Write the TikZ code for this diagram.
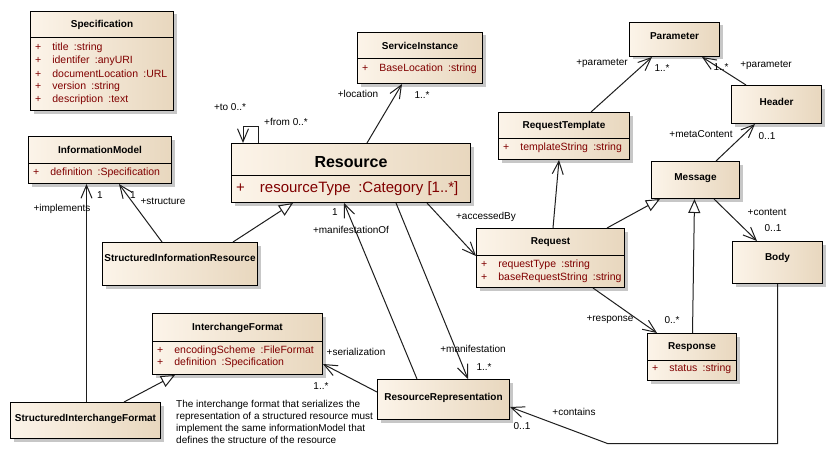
\documentclass[tikz,border=0pt]{standalone}
\usepackage{fontspec}
\setmainfont{Liberation Sans}
\usetikzlibrary{arrows.meta,shadows}
\definecolor{classleft}{RGB}{252,244,233}
\definecolor{classright}{RGB}{232,215,190}
\definecolor{attrred}{RGB}{128,0,0}
\definecolor{linegray}{RGB}{30,30,30}
\begin{document}
\begin{tikzpicture}[x=1pt,y=-1pt,
    classbox/.style={draw,line width=1pt,left color=classleft,right color=classright,
        drop shadow={shadow xshift=3pt,shadow yshift=-3pt,fill=black!22,opacity=1},
        inner sep=0pt,anchor=north west},
    classhead/.style={classbox,font=\fontsize{10}{12}\selectfont\bfseries},
    attrline/.style={anchor=west,inner sep=0pt,text=attrred,font=\fontsize{10.5}{12}\selectfont},
    lbl/.style={inner sep=0pt,text height=7pt,text depth=2pt,font=\fontsize{10}{12}\selectfont},
    assoc/.style={draw=linegray,line width=1pt,-{Straight Barb[length=13pt,width=11pt]}},
    inherit/.style={draw=linegray,line width=1pt,-{Triangle[length=14pt,width=12pt,fill=white]}}]
\fill[white] (0,0) rectangle (832,460);
\useasboundingbox (0,0) rectangle (832,460);
% Classes
    % Specification
    \node[classhead,minimum width=143pt,minimum height=26pt] (spec) at (30,11) {Specification};
    \node[classbox,minimum width=143pt,minimum height=73pt] (specattr) at (30,37) {};
    \foreach \nm/\ty [count=\i] in {title/string,identifer/anyURI,documentLocation/URL,version/string,description/text}
        \node[attrline] (spec\i) at (35,34.5+13*\i) {+\hspace{11pt}\nm\enspace:\ty};
    % InformationModel
    \node[classhead,minimum width=143pt,minimum height=27pt] (infomodel) at (28,136) {InformationModel};
    \node[classbox,minimum width=143pt,minimum height=20pt] (infomodelattr) at (28,163) {};
    \node[attrline] (infomodel1) at (33,173) {+\hspace{11pt}definition\enspace:Specification};
    % ServiceInstance
    \node[classhead,minimum width=125pt,minimum height=26pt] (service) at (357,32) {ServiceInstance};
    \node[classbox,minimum width=125pt,minimum height=25pt] (serviceattr) at (357,58) {};
    \node[attrline] (service1) at (362,69) {+\hspace{11pt}BaseLocation\enspace:string};
    % Resource
    \node[classhead,minimum width=239pt,minimum height=32pt,text height=15pt,text depth=0pt,
        font=\fontsize{16}{19}\selectfont\bfseries] (resource) at (231,143) {Resource};
    \node[classbox,minimum width=239pt,minimum height=27pt] (resourceattr) at (231,175) {};
    \node[attrline,font=\fontsize{15}{18}\selectfont] (resource1) at (236,189)
        {+\hspace{15pt}resourceType\enspace:Category [1..*]};
    % Request side
    \node[classhead,minimum width=90pt,minimum height=34pt,text depth=6pt] (param) at (629,22) {Parameter};
    \node[classhead,minimum width=90pt,minimum height=38pt,text depth=6pt] (header) at (731,85) {Header};
    \node[classhead,minimum width=131pt,minimum height=26pt] (reqtemplate) at (498,112) {RequestTemplate};
    \node[classbox,minimum width=131pt,minimum height=21pt] (reqtemplateattr) at (498,138) {};
    \node[attrline] (reqtemplate1) at (503,148) {+\hspace{11pt}templateString\enspace:string};
    \node[classhead,minimum width=88pt,minimum height=37pt,text depth=6pt] (message) at (651,161) {Message};
    \node[classhead,minimum width=90pt,minimum height=42pt,text depth=12pt] (body) at (732,241) {Body};
    \node[classhead,minimum width=148pt,minimum height=27pt] (request) at (476,228) {Request};
    \node[classbox,minimum width=148pt,minimum height=32pt] (requestattr) at (476,255) {};
    \foreach \nm/\ty [count=\i] in {requestType/string,baseRequestString/string}
        \node[attrline] (request\i) at (481,252+13*\i) {+\hspace{11pt}\nm\enspace:\ty};
    \node[classhead,minimum width=89pt,minimum height=27pt] (response) at (647,333) {Response};
    \node[classbox,minimum width=89pt,minimum height=20pt] (responseattr) at (647,360) {};
    \node[attrline] (response1) at (652,369) {+\hspace{11pt}status\enspace:string};
    % Structured classes and formats
    \node[classhead,minimum width=155pt,minimum height=43pt,text depth=13pt] (sir) at (102,242) {StructuredInformationResource};
    \node[classhead,minimum width=170pt,minimum height=28pt] (ifmt) at (152,313) {InterchangeFormat};
    \node[classbox,minimum width=170pt,minimum height=33pt] (ifmtattr) at (152,341) {};
    \foreach \nm/\ty [count=\i] in {encodingScheme/FileFormat,definition/Specification}
        \node[attrline] (ifmt\i) at (157,339+12*\i) {+\hspace{11pt}\nm\enspace:\ty};
    \node[classhead,minimum width=150pt,minimum height=36pt,text depth=6pt] (sif) at (10,402) {StructuredInterchangeFormat};
    \node[classhead,minimum width=132pt,minimum height=40pt,text depth=6pt] (resrep) at (377,379) {ResourceRepresentation};
% Associations
    \draw[assoc] ([xshift=136pt]resource.north west) -- ([xshift=45pt]serviceattr.south west);
    \draw[assoc] ([xshift=27pt]resource.north west) -- ++(0,-17) -- ++(-15,0) -- ([xshift=12pt]resource.north west);
    \draw[assoc] ([xshift=60pt]sir.north west) -- ([xshift=91pt]infomodelattr.south west);
    \draw[assoc] ([xshift=76.5pt]sif.north west) -- ([xshift=58.5pt]infomodelattr.south west);
    \draw[assoc] ([yshift=-13pt]resrep.north west) -- ([yshift=-23pt]ifmtattr.north east);
    \draw[assoc] ([xshift=40pt]resrep.north west) -- ([xshift=113pt]resourceattr.south west);
    \draw[assoc] ([xshift=165pt]resourceattr.south west) -- ([xshift=91pt]resrep.north west);
    \draw[assoc] ([xshift=196pt]resourceattr.south west) -- ([yshift=-1pt]requestattr.north west);
    \draw[assoc] ([xshift=77pt]request.north west) -- ([xshift=61pt]reqtemplateattr.south west);
    \draw[assoc] ([xshift=93pt]reqtemplate.north west) -- ([xshift=23pt]param.south west);
    \draw[assoc] ([xshift=15pt]header.north west) -- ([xshift=73pt]param.south west);
    \draw[assoc] ([xshift=65pt]message.north west) -- ([xshift=24pt]header.south west);
    \draw[assoc] ([xshift=63pt]message.south west) -- ([xshift=25pt]body.north west);
    \draw[assoc] ([xshift=117pt]requestattr.south west) -- ([xshift=10pt]response.north west);
    \draw[assoc] ([xshift=45.5pt]body.south west) -- ++(0,159.5) -- ++(-170,0) -- ([yshift=-28pt]resrep.north east);
% Generalizations
    \draw[inherit] ([xshift=131pt]sir.north west) -- ([xshift=62pt]resourceattr.south west);
    \draw[inherit] ([xshift=114pt]sif.north west) -- ([xshift=23pt]ifmtattr.south west);
    \draw[inherit] ([xshift=131pt]request.north west) -- ([xshift=9pt]message.south west);
    \draw[inherit] ([xshift=45.5pt]response.north west) -- ([xshift=43.5pt]message.south west);
% Labels
    \node[lbl] (to) at (230,108) {+to 0..*};
    \node[lbl] (from) at (286,123) {+from 0..*};
    \node[lbl] (location) at (358,95) {+location};
    \node[lbl] (location-m) at (422,96) {1..*};
    \node[lbl] (structure) at (163,202) {+structure};
    \node[lbl] (structure-m) at (133,196) {1};
    \node[lbl] (implements) at (62,209) {+implements};
    \node[lbl] (implements-m) at (100,196) {1};
    \node[lbl] (serialization) at (356,353) {+serialization};
    \node[lbl] (serialization-m) at (321,387) {1..*};
    \node[lbl] (manifestationof) at (351,231) {+manifestationOf};
    \node[lbl] (manifestationof-m) at (335,213) {1};
    \node[lbl] (manifestation) at (473,350) {+manifestation};
    \node[lbl] (manifestation-m) at (484,368) {1..*};
    \node[lbl] (accessedby) at (486,217) {+accessedBy};
    \node[lbl] (parameter1) at (602,63) {+parameter};
    \node[lbl] (parameter1-m) at (662,69) {1..*};
    \node[lbl] (parameter2) at (766,65) {+parameter};
    \node[lbl] (parameter2-m) at (721,68) {1..*};
    \node[lbl] (metacontent) at (701,135) {+metaContent};
    \node[lbl] (metacontent-m) at (767,137) {0..1};
    \node[lbl] (content) at (767,213) {+content};
    \node[lbl] (content-m) at (773,229) {0..1};
    \node[lbl] (response-r) at (610,319) {+response};
    \node[lbl] (response-m) at (672,321) {0..*};
    \node[lbl] (contains) at (574,413) {+contains};
    \node[lbl] (contains-m) at (522,427) {0..1};
% Note
    \node[anchor=north west,inner sep=0pt,align=left,font=\fontsize{10}{12}\selectfont] (note) at (176,400)
        {The interchange format that serializes the\\representation of a structured resource must\\implement the same informationModel that\\defines the structure of the resource};
\end{tikzpicture}
\end{document}
